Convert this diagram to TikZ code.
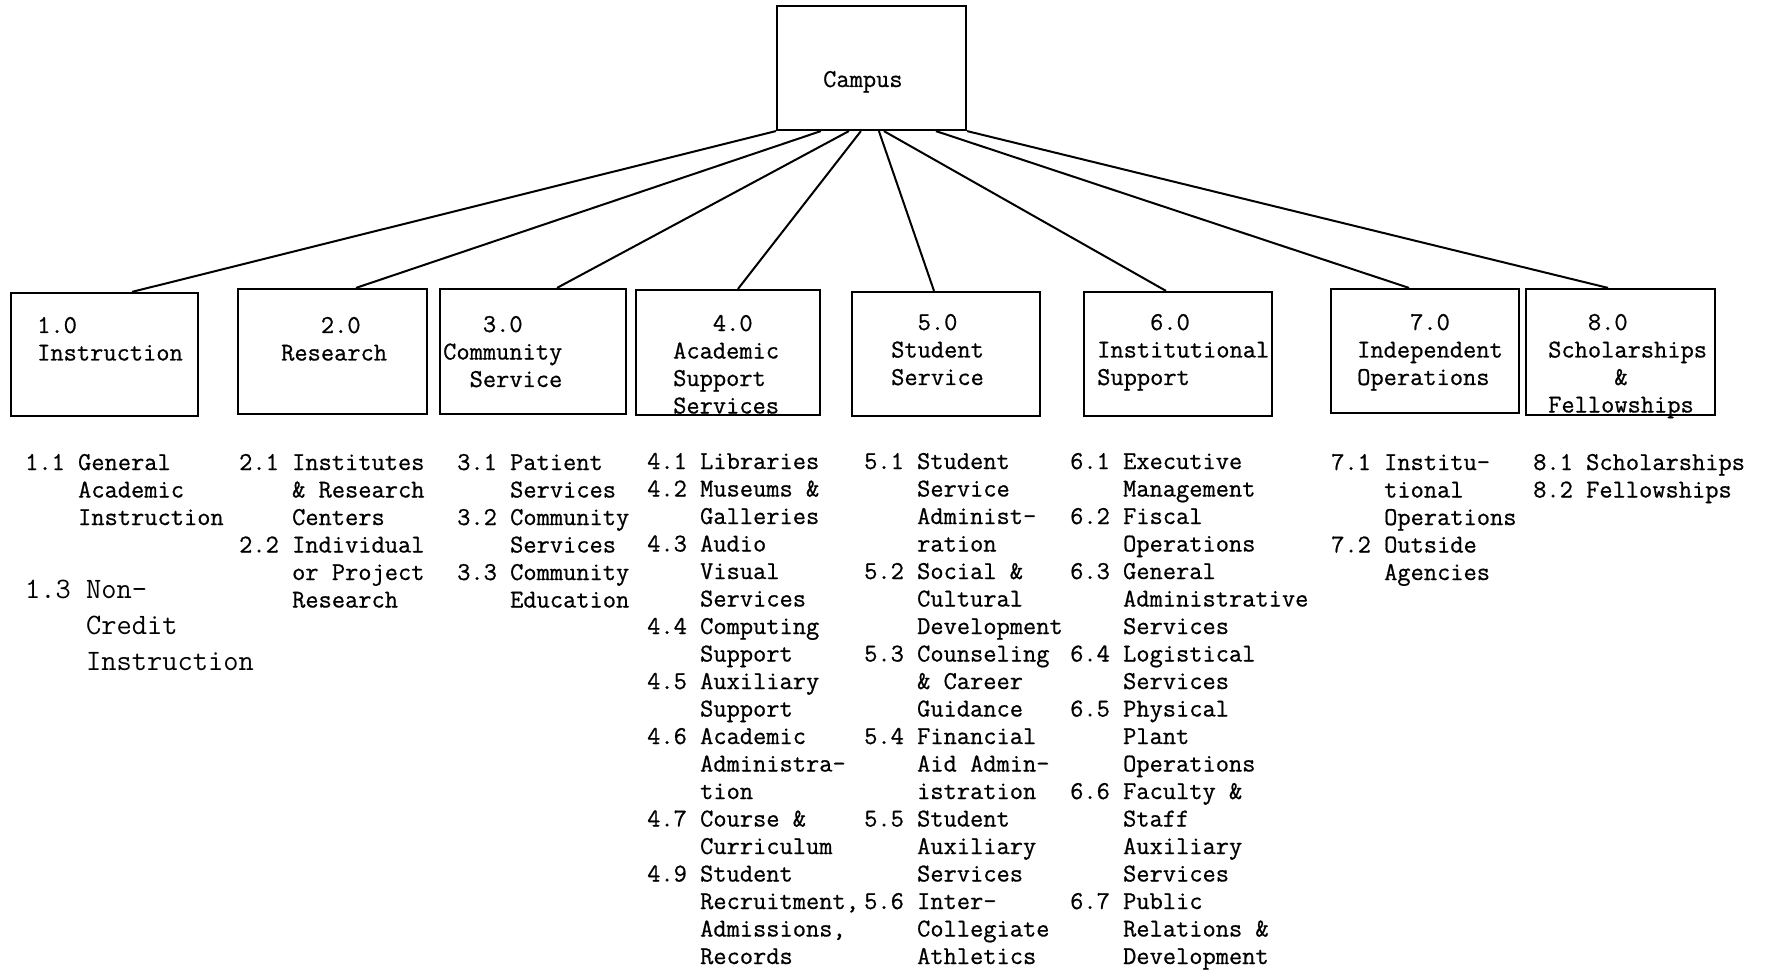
\documentclass[tikz,border=0pt]{standalone}
\usepackage{fontspec}
\setmonofont{Latin Modern Mono}[FakeBold=0.7]
\newfontfamily\plaintt{Latin Modern Mono}
\begin{document}
\begin{tikzpicture}[x=1pt,y=-1pt,
  box/.style={draw, line width=2.2pt, inner sep=0pt},
  link/.style={line width=2pt},
  lbl/.style={font=\ttfamily\fontsize{25.7}{27.5}\selectfont, anchor=base west, inner sep=0pt},
  big/.style={font=\plaintt\fontsize{29.6}{36}\selectfont, anchor=base west, inner sep=0pt}]
\useasboundingbox (0,0) rectangle (1768,973);
% boxes
\node[box, minimum width=189pt, minimum height=124pt] (campus) at (871.5,68) {};
\node[box, minimum width=187pt, minimum height=123pt] (b1) at (104.5,354.5) {};
\node[box, minimum width=189pt, minimum height=125pt] (b2) at (332.5,351.5) {};
\node[box, minimum width=186pt, minimum height=125pt] (b3) at (533,351.5) {};
\node[box, minimum width=184pt, minimum height=125pt] (b4) at (728,352.5) {};
\node[box, minimum width=188pt, minimum height=124pt] (b5) at (946,354) {};
\node[box, minimum width=188pt, minimum height=124pt] (b6) at (1178,354) {};
\node[box, minimum width=188pt, minimum height=124pt] (b7) at (1425,351) {};
\node[box, minimum width=189pt, minimum height=126pt] (b8) at (1620.5,352) {};
% box texts
\node[lbl] (tc) at (823,87) {Campus};
\node[lbl] (t1) at (37,333) {\begin{tabular}[t]{@{}l@{}}1.0\\Instruction\end{tabular}};
\node[lbl] (t2) at (281,333) {\begin{tabular}[t]{@{}l@{}}\phantom{000}2.0\\Research\end{tabular}};
\node[lbl] (t3) at (443,332) {\begin{tabular}[t]{@{}l@{}}\phantom{000}3.0\\Community\\\phantom{00}Service\end{tabular}};
\node[lbl] (t4) at (673,331) {\begin{tabular}[t]{@{}l@{}}\phantom{000}4.0\\Academic\\Support\\Services\end{tabular}};
\node[lbl] (t5) at (891,330) {\begin{tabular}[t]{@{}l@{}}\phantom{00}5.0\\Student\\Service\end{tabular}};
\node[lbl] (t6) at (1097,330) {\begin{tabular}[t]{@{}l@{}}\phantom{0000}6.0\\Institutional\\Support\end{tabular}};
\node[lbl] (t7) at (1357,330) {\begin{tabular}[t]{@{}l@{}}\phantom{0000}7.0\\Independent\\Operations\end{tabular}};
\node[lbl] (t8) at (1548,330) {\begin{tabular}[t]{@{}l@{}}\phantom{000}8.0\\Scholarships\\\phantom{00000}\&\\Fellowships\end{tabular}};
% connectors
\draw[link] (campus.south west) -- ([xshift=27.5pt]b1.north);
\draw[link] ([xshift=45pt]campus.south west) -- ([xshift=23.5pt]b2.north);
\draw[link] ([xshift=73pt]campus.south west) -- ([xshift=24pt]b3.north);
\draw[link] ([xshift=85pt]campus.south west) -- ([xshift=10pt]b4.north);
\draw[link] ([xshift=103pt]campus.south west) -- ([xshift=-12pt]b5.north);
\draw[link] ([xshift=108pt]campus.south west) -- ([xshift=-12pt]b6.north);
\draw[link] ([xshift=160pt]campus.south west) -- ([xshift=-16pt]b7.north);
\draw[link] (campus.south east) -- ([xshift=-12.5pt]b8.north);
% lists
\node[lbl] (l1) at (25,470) {\begin{tabular}[t]{@{}l@{\phantom{0}}l@{}}1.1&General\\&Academic\\&Instruction\end{tabular}};
\node[big] (l1b) at (25,598) {\begin{tabular}[t]{@{}l@{\phantom{0}}l@{}}1.3&Non-\\&Credit\\&Instruction\end{tabular}};
\node[lbl] (l2) at (239,470) {\begin{tabular}[t]{@{}l@{\phantom{0}}l@{}}2.1&Institutes\\&\& Research\\&Centers\\2.2&Individual\\&or Project\\&Research\end{tabular}};
\node[lbl] (l3) at (457,470) {\begin{tabular}[t]{@{}l@{\phantom{0}}l@{}}3.1&Patient\\&Services\\3.2&Community\\&Services\\3.3&Community\\&Education\end{tabular}};
\node[lbl] (l4) at (647,469) {\begin{tabular}[t]{@{}l@{\phantom{0}}l@{}}4.1&Libraries\\4.2&Museums \&\\&Galleries\\4.3&Audio\\&Visual\\&Services\\4.4&Computing\\&Support\\4.5&Auxiliary\\&Support\\4.6&Academic\\&Administra-\\&tion\\4.7&Course \&\\&Curriculum\\4.9&Student\\&Recruitment,\\&Admissions,\\&Records\end{tabular}};
\node[lbl] (l5) at (864,469) {\begin{tabular}[t]{@{}l@{\phantom{0}}l@{}}5.1&Student\\&Service\\&Administ-\\&ration\\5.2&Social \&\\&Cultural\\&Development\\5.3&Counseling\\&\& Career\\&Guidance\\5.4&Financial\\&Aid Admin-\\&istration\\5.5&Student\\&Auxiliary\\&Services\\5.6&Inter-\\&Collegiate\\&Athletics\end{tabular}};
\node[lbl] (l6) at (1070,469) {\begin{tabular}[t]{@{}l@{\phantom{0}}l@{}}6.1&Executive\\&Management\\6.2&Fiscal\\&Operations\\6.3&General\\&Administrative\\&Services\\6.4&Logistical\\&Services\\6.5&Physical\\&Plant\\&Operations\\6.6&Faculty \&\\&Staff\\&Auxiliary\\&Services\\6.7&Public\\&Relations \&\\&Development\end{tabular}};
\node[lbl] (l7) at (1331,470) {\begin{tabular}[t]{@{}l@{\phantom{0}}l@{}}7.1&Institu-\\&tional\\&Operations\\7.2&Outside\\&Agencies\end{tabular}};
\node[lbl] (l8) at (1533,470) {\begin{tabular}[t]{@{}l@{\phantom{0}}l@{}}8.1&Scholarships\\8.2&Fellowships\end{tabular}};
\end{tikzpicture}
\end{document}
